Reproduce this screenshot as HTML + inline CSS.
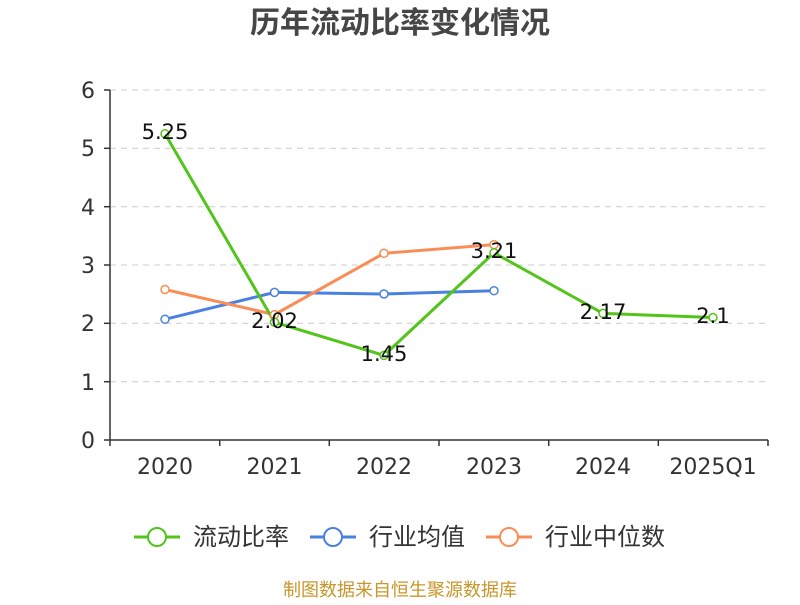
<!DOCTYPE html>
<html><head><meta charset="utf-8"><style>
body{margin:0;background:#fff;}
svg text{font-family:"DejaVu Sans","Noto Sans CJK SC",sans-serif;}
</style></head><body>
<svg width="800" height="600" viewBox="0 0 800 600" xmlns="http://www.w3.org/2000/svg">
<rect width="800" height="600" fill="#fff"/>
<text x="400" y="33" text-anchor="middle" font-size="30" font-weight="bold" fill="#464646" font-family="'Noto Sans CJK SC',sans-serif">历年流动比率变化情况</text>
<g stroke="#ccc" stroke-dasharray="6,5" stroke-width="1">
<line x1="110" y1="90" x2="768" y2="90"/><line x1="110" y1="148.3" x2="768" y2="148.3"/>
<line x1="110" y1="206.7" x2="768" y2="206.7"/><line x1="110" y1="265" x2="768" y2="265"/>
<line x1="110" y1="323.3" x2="768" y2="323.3"/><line x1="110" y1="381.7" x2="768" y2="381.7"/>
</g>
<g stroke="#333" stroke-width="1.5">
<line x1="110" y1="90" x2="110" y2="440"/><line x1="110" y1="440" x2="768" y2="440"/>
<line x1="104" y1="90" x2="110" y2="90"/><line x1="104" y1="148.3" x2="110" y2="148.3"/><line x1="104" y1="206.7" x2="110" y2="206.7"/><line x1="104" y1="265" x2="110" y2="265"/><line x1="104" y1="323.3" x2="110" y2="323.3"/><line x1="104" y1="381.7" x2="110" y2="381.7"/><line x1="104" y1="440" x2="110" y2="440"/>
<line x1="110" y1="440" x2="110" y2="446"/><line x1="219.7" y1="440" x2="219.7" y2="446"/><line x1="329.3" y1="440" x2="329.3" y2="446"/><line x1="439" y1="440" x2="439" y2="446"/><line x1="548.7" y1="440" x2="548.7" y2="446"/><line x1="658.3" y1="440" x2="658.3" y2="446"/><line x1="768" y1="440" x2="768" y2="446"/>
</g>
<g font-size="22" fill="#333" text-anchor="end">
<text x="95" y="98">6</text><text x="95" y="156">5</text><text x="95" y="215">4</text><text x="95" y="273">3</text><text x="95" y="331">2</text><text x="95" y="390">1</text><text x="95" y="448">0</text>
</g>
<g font-size="22" fill="#333" text-anchor="middle">
<text x="165" y="474">2020</text><text x="274.5" y="474">2021</text><text x="384" y="474">2022</text><text x="494" y="474">2023</text><text x="603" y="474">2024</text><text x="713" y="474">2025Q1</text>
</g>
<g fill="none" stroke-width="3">
<polyline stroke="#4a80e0" points="165,319.3 274.5,292.4 384,294 494,290.7"/>
<polyline stroke="#f98d56" points="165,289.5 274.5,314.6 384,253.3 494,244.6"/>
<polyline stroke="#52c41a" points="165,133.8 274.5,322.2 384,355.4 494,252.8 603,313.4 713,317.5"/>
</g>
<g fill="#fff" stroke-width="1.5">
<g stroke="#4a80e0"><circle cx="165" cy="319.3" r="4"/><circle cx="274.5" cy="292.4" r="4"/><circle cx="384" cy="294" r="4"/><circle cx="494" cy="290.7" r="4"/></g>
<g stroke="#f98d56"><circle cx="165" cy="289.5" r="4"/><circle cx="274.5" cy="314.6" r="4"/><circle cx="384" cy="253.3" r="4"/><circle cx="494" cy="244.6" r="4"/></g>
<g stroke="#52c41a"><circle cx="165" cy="133.8" r="4"/><circle cx="274.5" cy="322.2" r="4"/><circle cx="384" cy="355.4" r="4"/><circle cx="494" cy="252.8" r="4"/><circle cx="603" cy="313.4" r="4"/><circle cx="713" cy="317.5" r="4"/></g>
</g>
<g font-size="21" fill="#111" text-anchor="middle">
<text x="165" y="139">5.25</text><text x="274.5" y="328">2.02</text><text x="384" y="361">1.45</text><text x="494" y="258">3.21</text><text x="603" y="319">2.17</text><text x="713" y="323">2.1</text>
</g>
<g font-size="24" fill="#333">
<line x1="134" y1="537" x2="180" y2="537" stroke="#52c41a" stroke-width="3"/><circle cx="157" cy="537" r="9" fill="#fff" stroke="#52c41a" stroke-width="2"/>
<text x="193" y="545">流动比率</text>
<line x1="310" y1="537" x2="356" y2="537" stroke="#4a80e0" stroke-width="3"/><circle cx="333" cy="537" r="9" fill="#fff" stroke="#4a80e0" stroke-width="2"/>
<text x="369" y="545">行业均值</text>
<line x1="486" y1="537" x2="532" y2="537" stroke="#f98d56" stroke-width="3"/><circle cx="509" cy="537" r="9" fill="#fff" stroke="#f98d56" stroke-width="2"/>
<text x="545" y="545">行业中位数</text>
</g>
<text x="400" y="596" text-anchor="middle" font-size="18" fill="#c8962a">制图数据来自恒生聚源数据库</text>
</svg>
</body></html>
